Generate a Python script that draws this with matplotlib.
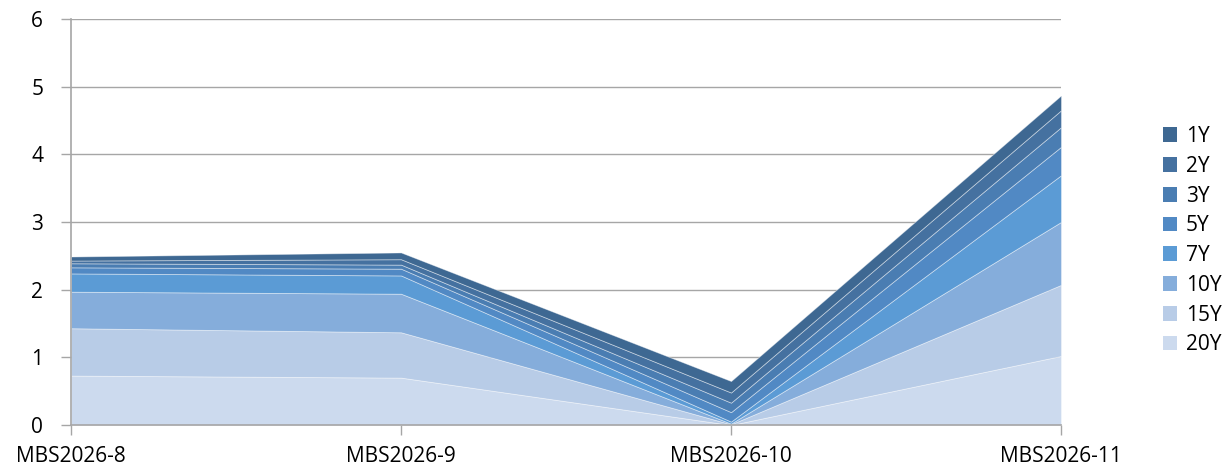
import numpy as np
import matplotlib
matplotlib.use("Agg")
import matplotlib.pyplot as plt
from matplotlib.patches import Patch

# data (values per tenor)
categories = ['MBS2026-8', 'MBS2026-9', 'MBS2026-10', 'MBS2026-11']
tenors = ['20Y', '15Y', '10Y', '7Y', '5Y', '3Y', '2Y', '1Y']
y20 = [0.73, 0.70, 0.00, 1.02]
y15 = [0.70, 0.67, 0.01, 1.05]
y10 = [0.54, 0.57, 0.01, 0.93]
y7 = [0.27, 0.27, 0.03, 0.69]
y5 = [0.09, 0.10, 0.14, 0.42]
y3 = [0.06, 0.06, 0.14, 0.29]
y2 = [0.04, 0.08, 0.15, 0.25]
y1 = [0.06, 0.10, 0.17, 0.22]

colors = ['#CCDAEE', '#B8CCE7', '#85ADDB', '#5B9BD5', '#5189C4', '#4A7DB2', '#4571A0', '#3E6892']

plt.rcParams['font.family'] = ['Open Sans', 'DejaVu Sans']
plt.rcParams['font.size'] = 15

fig = plt.figure(figsize=(12.23, 4.71), dpi=100)
ax = fig.add_axes([71 / 1223, 46 / 471, 990 / 1223, 406 / 471])

x = np.arange(len(categories))
ax.stackplot(x, y20, y15, y10, y7, y5, y3, y2, y1, colors=colors,
             edgecolor=(1, 1, 1, 0.45), linewidth=0.6, zorder=2)

ax.set_xlim(0, len(categories) - 1)
ax.set_ylim(0, 6)
ax.set_yticks(range(0, 7))
ax.set_xticks(x)
ax.set_xticklabels(categories)

ax.grid(axis='y', color='#A6A6A6', linewidth=1, zorder=0)
for s in ['top', 'right']:
    ax.spines[s].set_visible(False)
for s in ['left', 'bottom']:
    ax.spines[s].set_color('#A6A6A6')
    ax.spines[s].set_linewidth(1.2)
    ax.spines[s].set_zorder(3)
ax.tick_params(axis='both', colors='#A6A6A6', length=7, width=1, labelcolor='black', labelsize=15)
ax.tick_params(axis='y', pad=13)
ax.tick_params(axis='x', pad=8)

handles = [Patch(facecolor=c, edgecolor='none') for c in colors[::-1]]
fig.legend(handles, tenors[::-1], loc='center left', bbox_to_anchor=(1144 / 1223, 0.489),
           frameon=False, handlelength=0.7, handleheight=0.7, labelspacing=0.42,
           handletextpad=0.4, fontsize=15)

fig.savefig('out.png', dpi=100)
